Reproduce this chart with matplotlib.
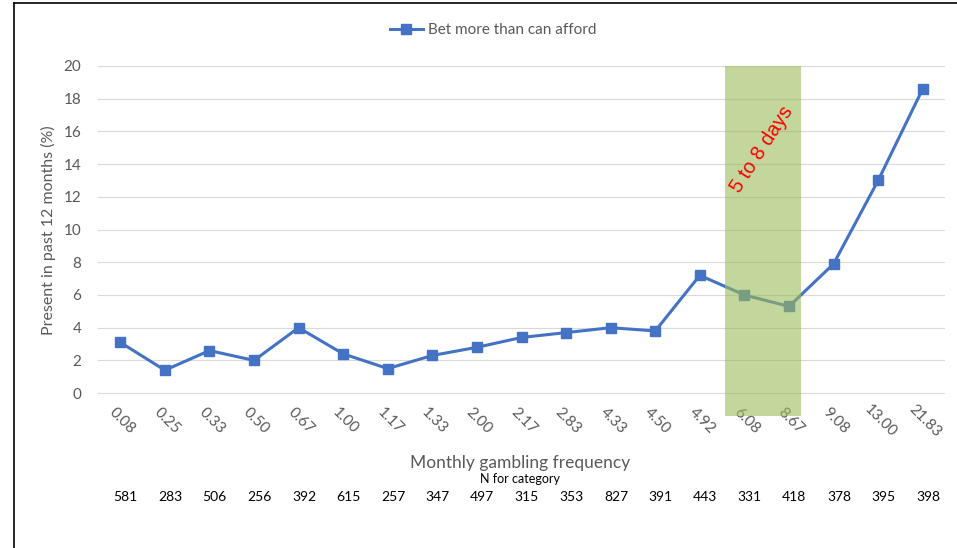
import matplotlib
matplotlib.use("Agg")
import matplotlib.pyplot as plt
from matplotlib.lines import Line2D

plt.rcParams['font.family'] = ['Lato', 'DejaVu Sans']

# Data
frequency_labels = ["0.08", "0.25", "0.33", "0.50", "0.67", "1.00", "1.17", "1.33",
                    "2.00", "2.17", "2.83", "4.33", "4.50", "4.92", "6.08", "8.67",
                    "9.08", "13.00", "21.83"]
bet_more = [3.1, 1.4, 2.6, 2.0, 4.0, 2.4, 1.5, 2.3, 2.8, 3.4, 3.7, 4.0, 3.8,
            7.2, 6.0, 5.3, 7.9, 13.0, 18.6]
n_for_category = [581, 283, 506, 256, 392, 615, 257, 347, 497, 315, 353, 827,
                  391, 443, 331, 418, 378, 395, 398]
y_ticks = list(range(0, 21, 2))

W, H = 957, 548
fig = plt.figure(figsize=(W / 100, H / 100), dpi=100)
ax = fig.add_axes([98 / W, 1 - 416 / H, (945 - 98) / W, (416 - 66) / H])

GRAY = "#595959"
BLUE = "#4472C4"

x = list(range(len(frequency_labels)))
ax.plot(x, bet_more, color=BLUE, lw=2.2, marker="s", ms=7,
        label="Bet more than can afford", zorder=3)

# highlighted band for 5 to 8 days, drawn over the series
ax.axvspan(13.57, 15.28, color="#9BBB59", alpha=0.6, lw=0, zorder=4)
ax.text(14.4, 14.9, "5 to 8 days", color="red", fontsize=14.5,
        family="Liberation Sans", rotation=57, ha="center", va="center",
        zorder=5)

ax.set_xlim(-0.5, len(x) - 0.5)
ax.set_ylim(-1.4, 20)
ax.set_yticks(y_ticks)
ax.set_yticklabels([str(v) for v in y_ticks])
ax.yaxis.grid(True, color="#D9D9D9", lw=0.8)
ax.set_axisbelow(True)
for s in ax.spines.values():
    s.set_visible(False)
ax.tick_params(axis="y", length=0, pad=12, labelsize=11, labelcolor=GRAY)
ax.set_xticks([])

# rotated category labels
xt = ax.get_xaxis_transform()
for i, lab in enumerate(frequency_labels):
    ax.text(i + 0.05, -0.014, lab, transform=xt, rotation=-45, ha="center",
            va="center", rotation_mode="anchor", fontsize=11, color=GRAY,
            clip_on=False)

# N row
for i, n in enumerate(n_for_category):
    ax.text(i + 0.12, -0.232, str(n), transform=xt, ha="center", va="center",
            fontsize=10, color="black", clip_on=False)

fig.text(520 / W, 1 - 463 / H, "Monthly gambling frequency", ha="center",
         va="center", fontsize=12.5, color=GRAY)
fig.text(520 / W, 1 - 479 / H, "N for category", ha="center", va="center",
         fontsize=9, color="black")
fig.text(48 / W, 1 - 230 / H, "Present in past 12 months (%)", rotation=90,
         ha="center", va="center", fontsize=11.5, color=GRAY)

fig.legend(loc="center", bbox_to_anchor=(493 / W, 1 - 30 / H), frameon=False,
           fontsize=11, labelcolor=GRAY, handlelength=2.2, handletextpad=0.3)

# outer frame lines
fig.add_artist(Line2D([14 / W, 14 / W], [0, 1 - 3 / H], color="black", lw=1.2,
                      transform=fig.transFigure))
fig.add_artist(Line2D([14 / W, 1], [1 - 3 / H, 1 - 3 / H], color="black", lw=1.2,
                      transform=fig.transFigure))

fig.savefig("out.png", dpi=100)
